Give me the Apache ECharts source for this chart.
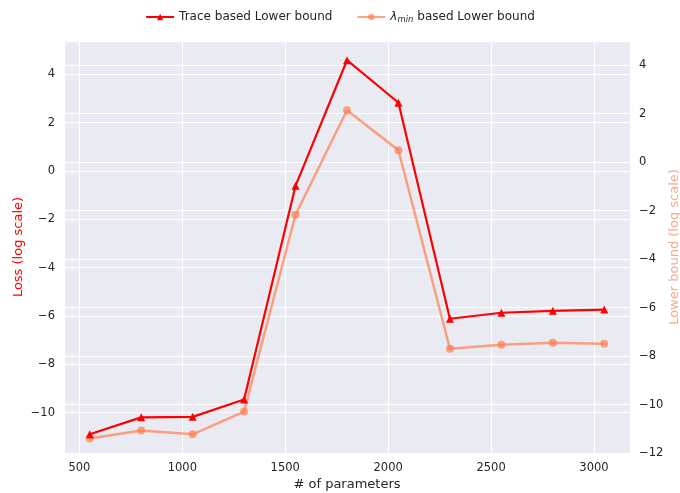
<!DOCTYPE html>
<html>
<head>
<meta charset="utf-8">
<script src="https://cdn.jsdelivr.net/npm/echarts@6/dist/echarts.min.js"></script>
<style>
  html, body { margin: 0; padding: 0; background: #fff; }
  #main { width: 680px; height: 493px; }
</style>
</head>
<body>
<div id="main"></div>
<script>
// number of parameters
var params = [550, 800, 1050, 1300, 1550, 1800, 2050, 2300, 2550, 2800, 3050];
// Trace based lower bound (left axis)
var traceBound = [-10.9, -10.2, -10.18, -9.46, -0.62, 4.58, 2.82, -6.12, -5.87, -5.79, -5.74];
// lambda_min based lower bound (right axis)
var lambdaBound = [-11.4, -11.07, -11.23, -10.29, -2.17, 2.14, 0.49, -7.7, -7.53, -7.45, -7.49];

var font = 'DejaVu Sans';
var tickColor = '#262626';

function pair(xs, ys) {
  return xs.map(function (x, i) { return [x, ys[i]]; });
}
// only even integers get a label, with a real minus sign
function evenLabel(v) {
  var r = Math.round(v);
  if (Math.abs(v - r) > 1e-6 || r % 2 !== 0) return '';
  return String(r).replace('-', '\u2212');
}

var chart = echarts.init(document.getElementById('main'));

var option = {
  backgroundColor: '#ffffff',
  textStyle: { fontFamily: font },
  legend: {
    top: 6,
    left: 'center',
    itemWidth: 28,
    itemHeight: 8,
    itemGap: 24,
    textStyle: {
      fontFamily: font,
      fontSize: 12,
      color: tickColor,
      rich: {
        l: { fontFamily: font, fontSize: 12, fontStyle: 'italic', color: tickColor },
        s: { fontFamily: font, fontSize: 8.5, fontStyle: 'italic', color: tickColor, verticalAlign: 'bottom', padding: [6, 0, 0, 0] }
      }
    },
    formatter: function (name) {
      if (name === 'lambda') return '{l|\u03bb}{s|min} based Lower bound';
      return name;
    },
    data: ['Trace based Lower bound', 'lambda']
  },
  grid: {
    left: 64,
    right: 50,
    top: 41,
    bottom: 40,
    outerBoundsMode: 'none',
    containLabel: false,
    show: true,
    backgroundColor: '#EAEAF2',
    borderWidth: 0
  },
  xAxis: {
    type: 'value',
    min: 425,
    max: 3175,
    splitNumber: 5,
    name: '# of parameters',
    nameLocation: 'middle',
    nameGap: 25,
    nameMoveOverlap: false,
    nameTextStyle: { fontFamily: font, fontSize: 13, color: tickColor },
    axisLine: { show: false },
    axisTick: { show: false },
    axisLabel: {
      margin: 9,
      fontFamily: font,
      fontSize: 11.5,
      color: tickColor,
      formatter: function (v) { return v % 500 === 0 ? String(v) : ''; }
    },
    splitLine: { show: true, lineStyle: { color: '#ffffff', width: 1 } }
  },
  yAxis: [
    {
      type: 'value',
      position: 'left',
      min: -11.675,
      max: 5.375,
      splitNumber: 8,
      name: 'Loss (log scale)',
      nameLocation: 'middle',
      nameGap: 39,
      nameMoveOverlap: false,
      nameTextStyle: { fontFamily: font, fontSize: 13, color: '#ff0000' },
      axisLine: { show: false },
      axisTick: { show: false },
      axisLabel: { margin: 9, fontFamily: font, fontSize: 11.5, color: tickColor, formatter: evenLabel },
      splitLine: { show: true, lineStyle: { color: '#ffffff', width: 1 } }
    },
    {
      type: 'value',
      position: 'right',
      min: -12,
      max: 5,
      interval: 2,
      name: 'Lower bound (log scale)',
      nameLocation: 'middle',
      nameGap: 38,
      nameMoveOverlap: false,
      nameTextStyle: { fontFamily: font, fontSize: 13, color: '#F9A88C' },
      axisLine: { show: false },
      axisTick: { show: false },
      axisLabel: { margin: 9, fontFamily: font, fontSize: 11.5, color: tickColor, formatter: evenLabel },
      splitLine: { show: true, lineStyle: { color: '#ffffff', width: 1 } }
    }
  ],
  series: [
    {
      name: 'Trace based Lower bound',
      type: 'line',
      yAxisIndex: 0,
      data: pair(params, traceBound),
      symbol: 'triangle',
      symbolSize: 8,
      color: '#ff0000',
      lineStyle: { width: 2.2, color: '#ff0000' },
      itemStyle: { color: '#ff0000' },
      z: 3
    },
    {
      name: 'lambda',
      type: 'line',
      yAxisIndex: 1,
      data: pair(params, lambdaBound),
      symbol: 'circle',
      symbolSize: 8,
      color: '#FF7F50',
      lineStyle: { width: 2.5, color: '#FF7F50', opacity: 0.7 },
      itemStyle: { color: '#FF7F50', opacity: 0.7 },
      z: 2
    }
  ]
};

chart.setOption(option);
</script>
</body>
</html>
